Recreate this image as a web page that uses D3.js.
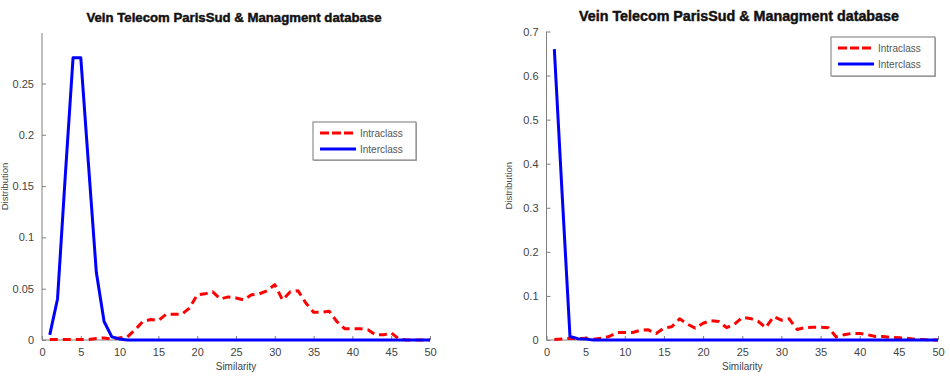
<!DOCTYPE html>
<html>
<head>
<meta charset="utf-8">
<script src="https://cdn.jsdelivr.net/npm/d3@7"></script>
<style>
  html, body { margin: 0; padding: 0; background: #fff; }
  svg { display: block; }
  text { font-family: "Liberation Sans", Arial, Helvetica, sans-serif; }
</style>
</head>
<body>
<svg id="chart" width="950" height="381"></svg>
<script>
// ---------- DATA ----------
const chartTitle = "Vein Telecom ParisSud & Managment database";
const xLabel = "Similarity";
const yLabel = "Distribution";
const seriesNames = ["Intraclass", "Interclass"];

const similarity = [1,2,3,4,5,6,7,8,9,10,11,12,13,14,15,16,17,18,19,20,
  21,22,23,24,25,26,27,28,29,30,31,32,33,34,35,36,37,38,39,40,
  41,42,43,44,45,46,47,48,49,50];

const xTicks = [0,5,10,15,20,25,30,35,40,45,50];
const leftYTicks = [0,0.05,0.1,0.15,0.2,0.25];
const rightYTicks = [0,0.1,0.2,0.3,0.4,0.5,0.6,0.7];

// Left panel
const leftIntraclass = [0.0005,0.0005,0.0005,0.0005,0.0005,0.0005,0.0015,0.002,0.001,0.002,
  0.003,0.010,0.018,0.020,0.019,0.025,0.025,0.025,0.031,0.044,
  0.045,0.047,0.040,0.042,0.041,0.039,0.044,0.045,0.048,0.054,
  0.039,0.047,0.048,0.036,0.027,0.027,0.028,0.018,0.011,0.011,
  0.011,0.010,0.005,0.005,0.007,0.001,0,0,0,0];
const leftInterclass = [0.005,0.040,0.160,0.275,0.275,0.170,0.066,0.018,0.003,0.001,
  0,0,0,0,0,0,0,0,0,0, 0,0,0,0,0,0,0,0,0,0,
  0,0,0,0,0,0,0,0,0,0, 0,0,0,0,0,0,0,0,0,0];

// Right panel
const rightIntraclass = [0.001,0.002,0.004,0.003,0.004,0.002,0.004,0.008,0.017,0.017,
  0.017,0.022,0.023,0.015,0.027,0.030,0.048,0.036,0.027,0.038,
  0.044,0.042,0.028,0.036,0.051,0.049,0.043,0.028,0.053,0.045,
  0.048,0.024,0.028,0.029,0.029,0.028,0.007,0.012,0.015,0.015,
  0.012,0.008,0.008,0.006,0.005,0.004,0.002,0.001,0,0];
const rightInterclass = [0.660,0.330,0.008,0.003,0.002,0,0,0,0,0,
  0,0,0,0,0,0,0,0,0,0, 0,0,0,0,0,0,0,0,0,0,
  0,0,0,0,0,0,0,0,0,0, 0,0,0,0,0,0,0,0,0,0];

// ---------- DRAW ----------
const svg = d3.select("#chart");
svg.append("rect").attr("width", 950).attr("height", 381).attr("fill", "#fff");

const AXIS = "#808080", TICKTXT = "#444";
const RED = "#ff0000", BLUE = "#0000ff";

function drawPanel(cfg) {
  const g = svg.append("g");
  const x = d3.scaleLinear().domain([0, 50]).range([cfg.left, cfg.right]);
  const y = d3.scaleLinear().domain([0, cfg.yMax]).range([cfg.bottom, cfg.top]);

  // title
  g.append("text").attr("x", cfg.titleX).attr("y", cfg.titleY)
    .attr("text-anchor", "middle").attr("font-weight", "bold")
    .attr("font-size", cfg.titleSize).attr("fill", "#111")
    .attr("stroke", "#111").attr("stroke-width", 0.45).text(chartTitle);

  // x axis (ticks inward)
  const xa = g.append("g").attr("transform", `translate(0,${cfg.bottom})`)
    .call(d3.axisBottom(x).tickValues(xTicks).tickSizeInner(-4).tickSizeOuter(0).tickPadding(8));
  // y axis (ticks inward)
  const ya = g.append("g").attr("transform", `translate(${cfg.left},0)`)
    .call(d3.axisLeft(y).tickValues(cfg.yTicks).tickSizeInner(-4).tickSizeOuter(0).tickPadding(8)
      .tickFormat(d => String(d)));
  [xa, ya].forEach(a => {
    a.select(".domain").attr("stroke", AXIS);
    a.selectAll(".tick line").attr("stroke", AXIS);
    a.selectAll(".tick text").attr("fill", TICKTXT).attr("font-size", 11)
      .attr("font-family", "'Liberation Sans', Arial, sans-serif");
  });
  ya.select(".domain").attr("d", `M0,${cfg.bottom}V${cfg.top}`);
  xa.select(".domain").attr("d", `M${cfg.left},0H${cfg.right}`);

  // axis labels
  g.append("text").attr("x", (cfg.left + cfg.right) / 2).attr("y", 370)
    .attr("text-anchor", "middle").attr("font-size", 10).attr("fill", TICKTXT).text(xLabel);
  g.append("text")
    .attr("transform", `translate(${cfg.yLabelX},${(cfg.top + cfg.bottom) / 2}) rotate(-90)`)
    .attr("text-anchor", "middle").attr("font-size", 9.5).attr("fill", TICKTXT).text(yLabel);

  const line = d3.line().x((d, i) => x(similarity[i])).y(d => y(d));

  g.append("path").datum(cfg.intra).attr("d", line).attr("fill", "none")
    .attr("stroke", RED).attr("stroke-width", 3).attr("stroke-dasharray", "8,5")
    .attr("stroke-linejoin", "round");
  g.append("path").datum(cfg.inter).attr("d", line).attr("fill", "none")
    .attr("stroke", BLUE).attr("stroke-width", 3).attr("stroke-linejoin", "round");

  // legend
  const L = cfg.legend;
  g.append("rect").attr("x", L.x + 1).attr("y", L.y + 1).attr("width", L.w).attr("height", L.h)
    .attr("fill", "#bbb");
  g.append("rect").attr("x", L.x).attr("y", L.y).attr("width", L.w).attr("height", L.h)
    .attr("fill", "#fff").attr("stroke", "#777").attr("stroke-width", 1);
  const colors = [RED, BLUE];
  const dashes = ["9,3", null];
  seriesNames.forEach((name, i) => {
    const yy = L.y + 11 + i * 16;
    g.append("line").attr("x1", L.x + 7).attr("x2", L.x + 43).attr("y1", yy).attr("y2", yy)
      .attr("stroke", colors[i]).attr("stroke-width", 3)
      .attr("stroke-dasharray", dashes[i]);
    g.append("text").attr("x", L.x + 47).attr("y", yy + 4).attr("font-size", 10)
      .attr("fill", "#555").text(name);
  });
}

drawPanel({
  left: 42, right: 430, top: 33, bottom: 340, yMax: 0.2992,
  yTicks: leftYTicks, intra: leftIntraclass, inter: leftInterclass,
  titleX: 234, titleY: 22, titleSize: 13.2, yLabelX: 8,
  legend: { x: 313, y: 122, w: 103, h: 38 }
});
drawPanel({
  left: 546.5, right: 938, top: 31.5, bottom: 340, yMax: 0.7,
  yTicks: rightYTicks, intra: rightIntraclass, inter: rightInterclass,
  titleX: 739, titleY: 21, titleSize: 14.3, yLabelX: 512,
  legend: { x: 831, y: 37, w: 104, h: 39 }
});
</script>
</body>
</html>
